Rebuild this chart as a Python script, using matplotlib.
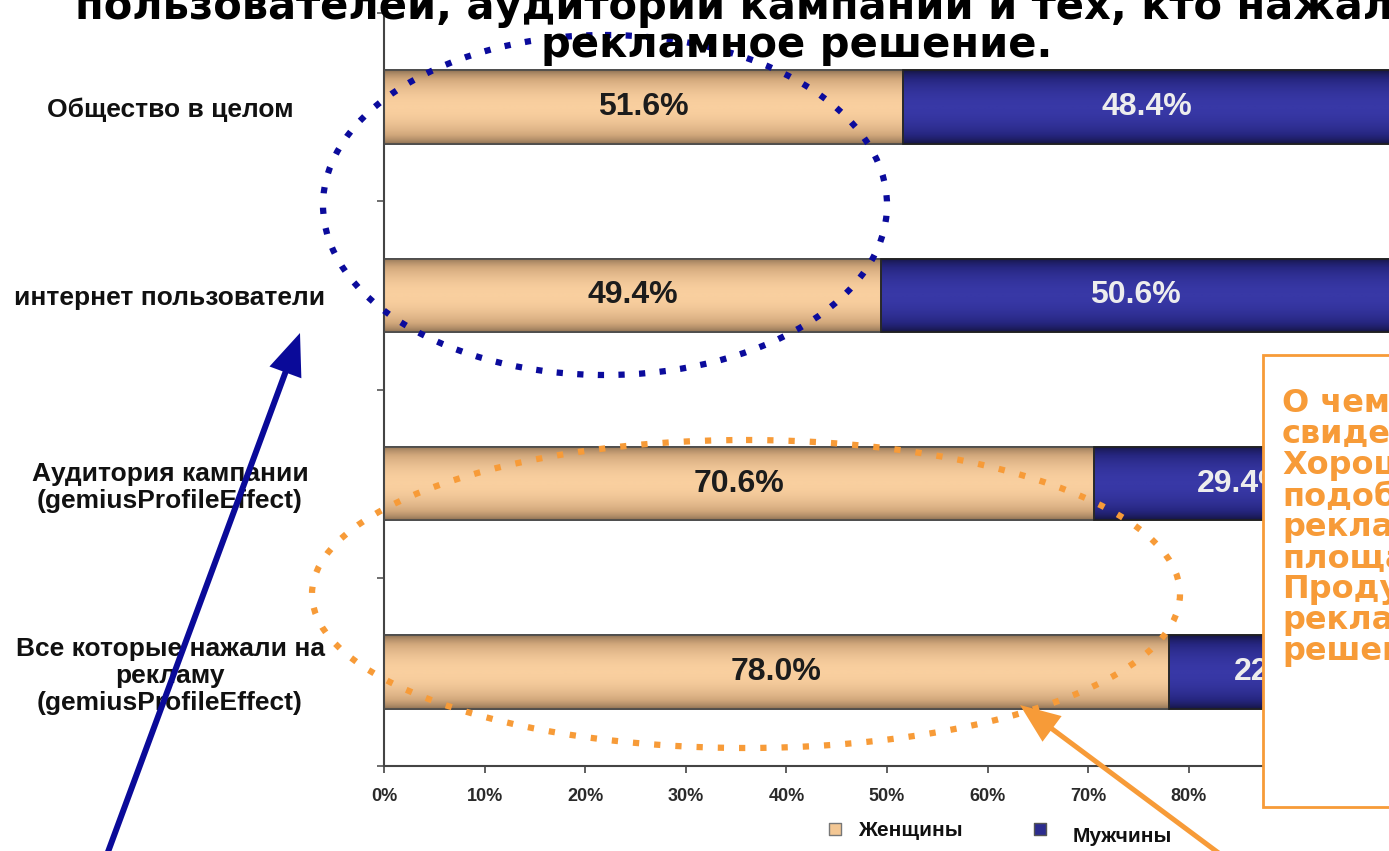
import numpy as np
import matplotlib
matplotlib.use("Agg")
import matplotlib.pyplot as plt
from matplotlib.patches import Ellipse, Rectangle, FancyArrow
from matplotlib.colors import LinearSegmentedColormap

# ---------------- data ----------------
categories = [
    "Общество в целом",
    "интернет пользователи",
    "Аудитория кампании\n(gemiusProfileEffect)",
    "Все которые нажали на\nрекламу\n(gemiusProfileEffect)",
]
women = [51.6, 49.4, 70.6, 78.0]
men = [48.4, 50.6, 29.4, 22.0]
series_names = ["Женщины", "Мужчины"]
x_ticks = [0, 10, 20, 30, 40, 50, 60, 70, 80, 90, 100]
x_tick_labels = [f"{t}%" for t in x_ticks]
title_lines = ["пользователей, аудитории кампании и тех, кто нажали на",
               "рекламное решение."]
note_text = ("О чем это\nсвидетельствует?\nХорошо\nподобранные\nрекламные\n"
             "площадки.\nПродуманное\nрекламное\nрешение.")

# ---------------- figure ----------------
W, H = 1389, 851
fig = plt.figure(figsize=(W / 100, H / 100), dpi=100)
fig.patch.set_facecolor("white")

ax_left, ax_right, ax_top, ax_bottom = 384, 1390, 13, 766
ax = fig.add_axes([ax_left / W, 1 - ax_bottom / H,
                   (ax_right - ax_left) / W, (ax_bottom - ax_top) / H])

women_c = "#F3C794"
men_c = "#2C2C8E"
cm_w = LinearSegmentedColormap.from_list("w", ["#8A6F52", "#D2A87C", "#F9CF9F"])
cm_m = LinearSegmentedColormap.from_list("m", ["#14143F", "#262680", "#3838A6"])

y = np.arange(len(categories))
bh = 0.39
bars_w = ax.barh(y, women, height=bh, color=women_c, edgecolor="#4a4a4a", lw=1.2, zorder=2)
bars_m = ax.barh(y, men, left=women, height=bh, color=men_c, edgecolor="#222222", lw=1.2, zorder=2)

t = np.linspace(0, 1, 80)
prof = (np.sin(np.pi * t) ** 0.7).reshape(-1, 1)
for bars, cm in ((bars_w, cm_w), (bars_m, cm_m)):
    for p in bars:
        x0, y0 = p.get_xy()
        w, h = p.get_width(), p.get_height()
        im = ax.imshow(prof, extent=(x0, x0 + w, y0 + h, y0), aspect="auto",
                       cmap=cm, vmin=0, vmax=1, zorder=2.5, interpolation="bilinear")
        im.set_clip_path(p)
        ax.add_patch(Rectangle((x0, y0), w, h, fill=False,
                               edgecolor=p.get_edgecolor(), lw=1.2, zorder=3))

for i in range(len(categories)):
    ax.text(women[i] / 2, y[i], f"{women[i]:.1f}%", ha="center", va="center",
            fontsize=23, fontweight="bold", family="Liberation Sans",
            color="#1c1c1c", zorder=4)
    ax.text(women[i] + men[i] / 2, y[i], f"{men[i]:.1f}%", ha="center", va="center",
            fontsize=23, fontweight="bold", family="Liberation Sans",
            color="#EDEDED", zorder=4)

ax.set_xlim(0, 100)
ax.set_ylim(len(categories) - 0.5, -0.5)
ax.set_xticks(x_ticks)
ax.set_xticklabels(x_tick_labels, fontsize=13, fontweight="bold",
                   family="Liberation Sans", color="#2a2a2a")
ax.tick_params(axis="x", length=5, width=1.2, color="#444444", pad=11)
ax.set_yticks(y)
ax.set_yticklabels(categories, ha="center", fontsize=19, fontweight="bold",
                   family="Liberation Sans", color="#111111", linespacing=1.15)
ax.tick_params(axis="y", which="major", length=0, pad=214 * 0.72)
ax.set_yticks(np.arange(len(categories) + 1) - 0.5, minor=True)
ax.tick_params(axis="y", which="minor", length=5, width=1.2, color="#555555")
for s in ("top", "right"):
    ax.spines[s].set_visible(False)
for s in ("left", "bottom"):
    ax.spines[s].set_color("#444444")
    ax.spines[s].set_linewidth(1.5)

# ---------------- overlay (annotations) ----------------
ov = fig.add_axes([0, 0, 1, 1], zorder=10)
ov.set_xlim(0, W)
ov.set_ylim(H, 0)
ov.axis("off")
ov.patch.set_alpha(0)

# title
ov.text(75, 19, title_lines[0], ha="left", va="baseline", fontsize=30,
        fontweight="bold", family="DejaVu Sans", color="black")
ov.text(797, 57, title_lines[1], ha="center", va="baseline", fontsize=30,
        fontweight="bold", family="DejaVu Sans", color="black")

blue = "#0B0B9C"
orange = "#F79B38"
ov.add_patch(Ellipse((605, 205), 564, 340, fill=False, edgecolor=blue,
                     lw=4.5, linestyle=(0, (1, 2.3))))
ov.add_patch(Ellipse((746, 594), 868, 308, fill=False, edgecolor=orange,
                     lw=4.5, linestyle=(0, (1, 2.4))))

# arrows
ov.add_patch(FancyArrow(105, 860, 300 - 105, 333 - 860, width=6, head_width=34,
                        head_length=42, length_includes_head=True,
                        color="#0A0A99", lw=0))
ov.add_patch(FancyArrow(1228, 860, 1020 - 1228, 705 - 860, width=5, head_width=32,
                        head_length=40, length_includes_head=True,
                        color=orange, lw=0))

# note box
ov.add_patch(Rectangle((1263, 355), 200, 452, facecolor="white",
                       edgecolor=orange, lw=2))
ov.text(1282, 388, note_text, ha="left", va="top", fontsize=23,
        fontweight="bold", family="DejaVu Sans", color=orange, linespacing=0.99)

# legend
ov.scatter([835], [829], marker="s", s=80, color=women_c, edgecolor="#777777", lw=1)
ov.scatter([1040], [829], marker="s", s=80, color=men_c, edgecolor="#555555", lw=1)
ov.text(858, 831, series_names[0], ha="left", va="center", fontsize=15,
        fontweight="bold", family="Liberation Sans", color="#111111")
ov.text(1073, 837, series_names[1], ha="left", va="center", fontsize=15,
        fontweight="bold", family="Liberation Sans", color="#111111")

fig.savefig("out.png", dpi=100)
